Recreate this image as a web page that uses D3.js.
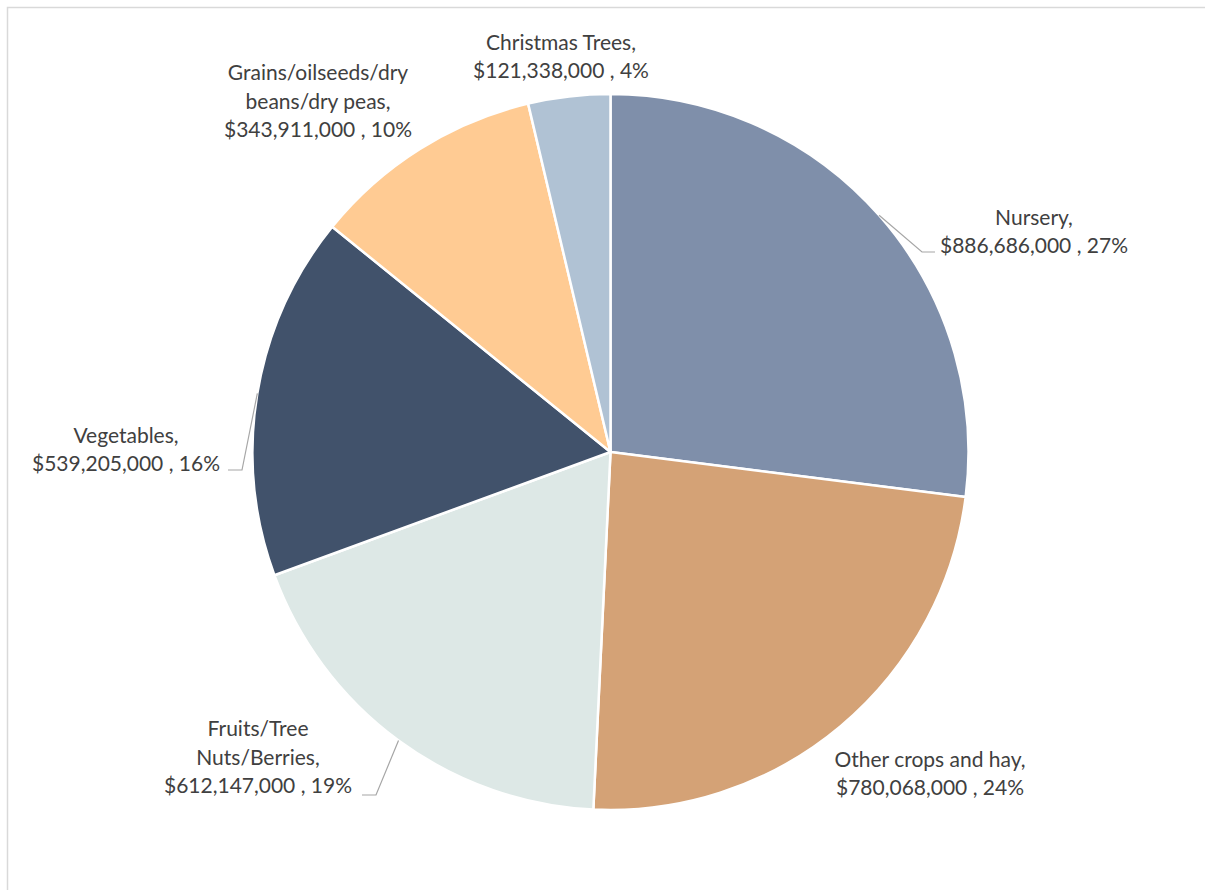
<!DOCTYPE html>
<html>
<head>
<meta charset="utf-8">
<script src="https://cdn.jsdelivr.net/npm/d3@7"></script>
<style>
  html, body { margin: 0; padding: 0; background: #fff; }
  svg { display: block; }
  text { font-family: Lato, "Open Sans", sans-serif; fill: #404040; }
</style>
</head>
<body>
<svg id="chart" width="1205" height="890"></svg>
<script>
// Crop categories and their values (USD), clockwise from 12 o'clock
const categories = [
  "Nursery",
  "Other crops and hay",
  "Fruits/Tree Nuts/Berries",
  "Vegetables",
  "Grains/oilseeds/dry beans/dry peas",
  "Christmas Trees"
];
const values = [886686000, 780068000, 612147000, 539205000, 343911000, 121338000];

// Line breaks used for each category label
const labelLines = [
  ["Nursery,"],
  ["Other crops and hay,"],
  ["Fruits/Tree", "Nuts/Berries,"],
  ["Vegetables,"],
  ["Grains/oilseeds/dry", "beans/dry peas,"],
  ["Christmas Trees,"]
];

const colors = ["#7f8faa", "#d4a276", "#dde8e6", "#41526b", "#ffcb93", "#b0c2d4"];

// Label placement: centre x, baseline of the last line, and optional leader elbow
const labelLayout = [
  { x: 1034, y: 253, elbow: [922, 252], end: 935 },
  { x: 930,  y: 795 },
  { x: 258,  y: 793, elbow: [376, 795], end: 362 },
  { x: 126,  y: 471, elbow: [242, 470], end: 228 },
  { x: 318,  y: 137 },
  { x: 561,  y: 78 }
];

const svg = d3.select("#chart");
const cx = 610.5, cy = 452, radius = 358, lineH = 28.5;

// chart area frame
svg.append("rect")
  .attr("x", 7.5).attr("y", 7.5)
  .attr("width", 1210).attr("height", 900)
  .attr("fill", "none").attr("stroke", "#d9d9d9").attr("stroke-width", 1.5);

const total = d3.sum(values);
const pie = d3.pie().sort(null).value(d => d);
const arcs = pie(values);
const arc = d3.arc().innerRadius(0).outerRadius(radius);

const g = svg.append("g").attr("transform", `translate(${cx},${cy})`);
g.selectAll("path.slice")
  .data(arcs)
  .join("path")
  .attr("class", "slice")
  .attr("d", arc)
  .attr("fill", (d, i) => colors[i])
  .attr("stroke", "#ffffff")
  .attr("stroke-width", 2.5)
  .attr("stroke-linejoin", "round");

const money = d3.format("$,");
const pct = d3.format(".0%");

// leader lines from the slice edge midpoint to the label
arcs.forEach((a, i) => {
  const L = labelLayout[i];
  if (!L.elbow) return;
  const mid = (a.startAngle + a.endAngle) / 2;
  const sx = cx + radius * Math.sin(mid);
  const sy = cy - radius * Math.cos(mid);
  svg.append("polyline")
    .attr("points", `${sx},${sy} ${L.elbow[0]},${L.elbow[1]} ${L.end},${L.elbow[1]}`)
    .attr("fill", "none")
    .attr("stroke", "#a6a6a6")
    .attr("stroke-width", 1.2);
});

// data labels
arcs.forEach((a, i) => {
  const L = labelLayout[i];
  const lines = labelLines[i].concat([`${money(values[i])} , ${pct(values[i] / total)}`]);
  const t = svg.append("text")
    .attr("text-anchor", "middle")
    .attr("font-size", 21);
  lines.forEach((ln, k) => {
    t.append("tspan")
      .attr("x", L.x)
      .attr("y", L.y - (lines.length - 1 - k) * lineH)
      .text(ln);
  });
});
</script>
</body>
</html>
